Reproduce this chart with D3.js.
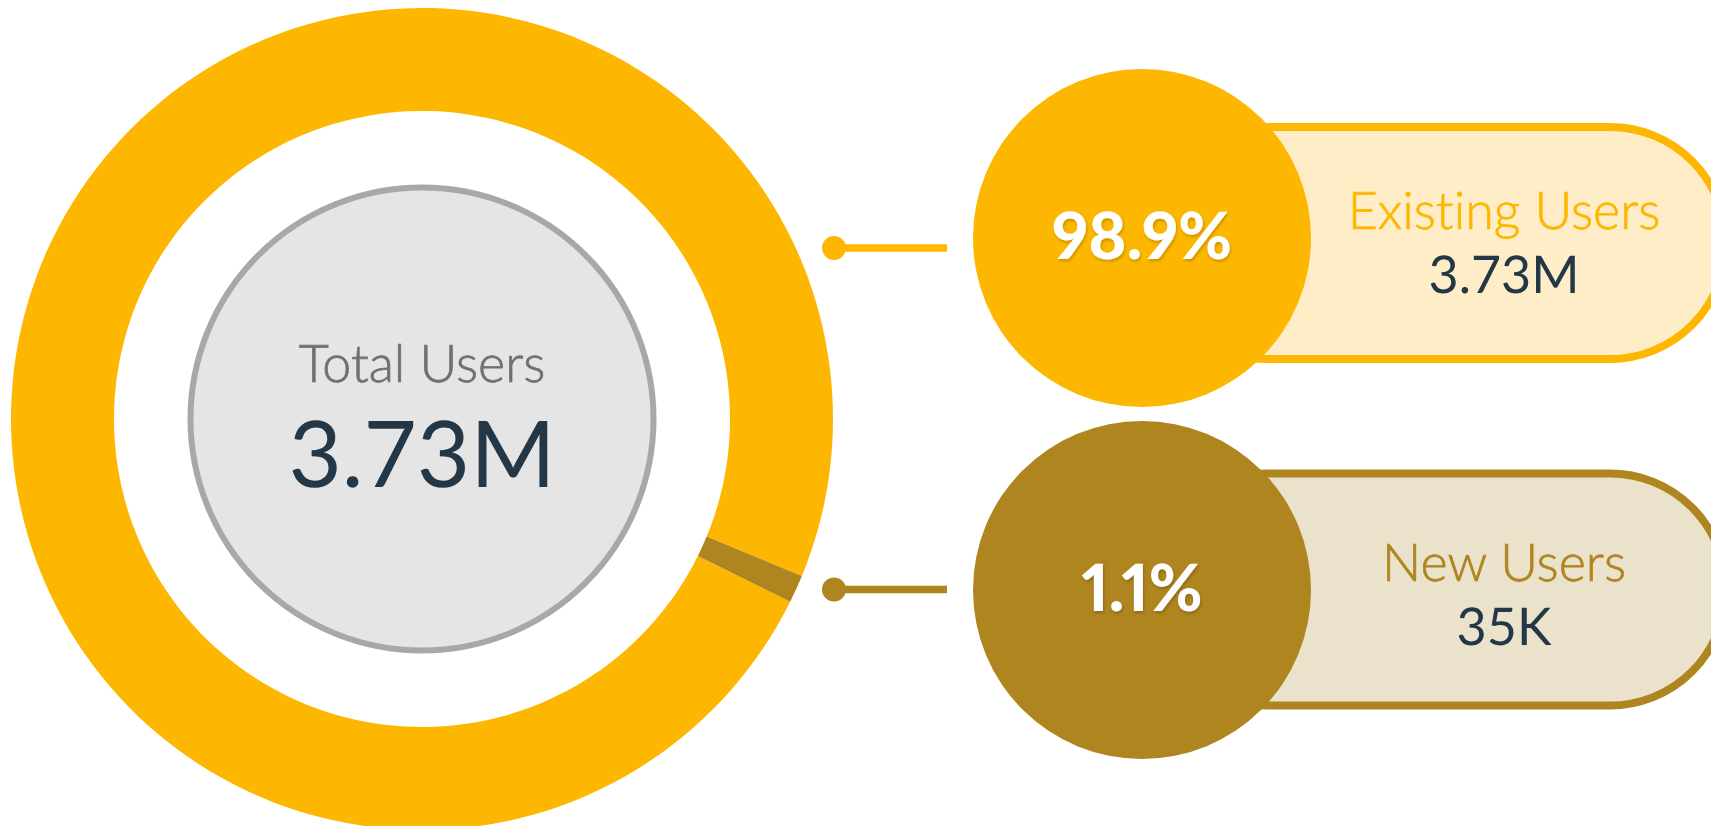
<!DOCTYPE html>
<html>
<head>
<meta charset="utf-8">
<script src="https://cdn.jsdelivr.net/npm/d3@7"></script>
<style>
  html, body { margin: 0; padding: 0; background: #ffffff; overflow: hidden; }
  svg { display: block; }
  text {
    font-family: Lato, "Open Sans", sans-serif;
    font-variant-ligatures: none;
    text-rendering: geometricPrecision;
  }
  .pct { font-variant-numeric: proportional-nums; font-feature-settings: "pnum" 1; }
</style>
</head>
<body>
<svg id="chart" width="1711" height="826"></svg>
<script>
// ---- data ----
const categories = ["Existing Users", "New Users"];
const shares = [98.9, 1.1];              // percent of total users
const countLabels = ["3.73M", "35K"];
const totalLabel = "Total Users";
const totalValue = "3.73M";

// ---- styling ----
const mainColors = ["#FDB700", "#AF851F"];
const pillFills = ["#FFEDC7", "#EAE2CB"];
const textDark = "#243746";

const svg = d3.select("#chart");

// donut geometry
const cx = 422, cy = 419;
const outerR = 411, innerR = 308;
const hubR = 231.5;

// the donut begins so the small slice sits lower right
const startDeg = 116.4;
const pie = d3.pie()
  .sort(null)
  .value(d => d.share)
  .startAngle(startDeg * Math.PI / 180)
  .endAngle(startDeg * Math.PI / 180 + 2 * Math.PI);

const rows = categories.map((c, i) => ({ name: c, share: shares[i], count: countLabels[i], i }));

const arc = d3.arc().innerRadius(innerR).outerRadius(outerR);

const donut = svg.append("g").attr("transform", `translate(${cx},${cy})`);
donut.selectAll("path.slice")
  .data(pie(rows))
  .join("path")
  .attr("class", "slice")
  .attr("d", arc)
  .attr("fill", d => mainColors[d.data.i]);

// center hub
donut.append("circle")
  .attr("r", hubR)
  .attr("fill", "#E5E5E5")
  .attr("stroke", "#A8A8A8")
  .attr("stroke-width", 6);

donut.append("text")
  .attr("text-anchor", "middle")
  .attr("y", 382 - cy)
  .attr("font-size", 52)
  .attr("font-weight", 300)
  .attr("fill", "#707070")
  .attr("stroke", "#707070")
  .attr("stroke-width", 0.7)
  .text(totalLabel);

donut.append("text")
  .attr("text-anchor", "middle")
  .attr("y", 487 - cy)
  .attr("font-size", 92)
  .attr("font-weight", 400)
  .attr("fill", textDark)
  .text(totalValue);

// ---- legend rows on the right ----
const rowY = d3.scalePoint().domain(categories).range([238, 590]);
const pillShift = [5, -0.5];     // pill centre relative to circle centre
const lineShift = [10, -0.5];    // connector relative to circle centre

const badgeX = 1142, badgeR = 169;
const pillLeft = 1150, pillRight = 1726, pillH = 232;
const textX = 1504;

const defs = svg.append("defs");
const shadow = defs.append("filter").attr("id", "pctShadow")
  .attr("x", "-20%").attr("y", "-20%").attr("width", "140%").attr("height", "140%");
shadow.append("feDropShadow")
  .attr("dx", 1).attr("dy", 2).attr("stdDeviation", 1.5)
  .attr("flood-color", "#000").attr("flood-opacity", 0.22);

const legend = svg.selectAll("g.row")
  .data(rows)
  .join("g")
  .attr("class", "row");

// pill behind the badge
legend.append("rect")
  .attr("x", pillLeft)
  .attr("y", d => rowY(d.name) + pillShift[d.i] - pillH / 2)
  .attr("width", pillRight - pillLeft)
  .attr("height", pillH)
  .attr("rx", pillH / 2)
  .attr("ry", pillH / 2)
  .attr("fill", d => pillFills[d.i])
  .attr("stroke", d => mainColors[d.i])
  .attr("stroke-width", 8);

// badge circle
legend.append("circle")
  .attr("cx", badgeX)
  .attr("cy", d => rowY(d.name))
  .attr("r", badgeR)
  .attr("fill", d => mainColors[d.i]);

// connector with dot
legend.append("line")
  .attr("x1", 834)
  .attr("x2", 947)
  .attr("y1", d => rowY(d.name) + lineShift[d.i])
  .attr("y2", d => rowY(d.name) + lineShift[d.i])
  .attr("stroke", d => mainColors[d.i])
  .attr("stroke-width", 7.5);

legend.append("circle")
  .attr("cx", 834)
  .attr("cy", d => rowY(d.name) + lineShift[d.i])
  .attr("r", 12)
  .attr("fill", d => mainColors[d.i]);

// percentage in the badge
const fmtPct = d => d3.format(".1f")(d) + "%";
legend.append("text")
  .attr("class", "pct")
  .attr("x", badgeX)
  .attr("y", d => rowY(d.name) + 21)
  .attr("text-anchor", "middle")
  .attr("font-size", 65)
  .attr("font-weight", 900)
  .attr("fill", "#ffffff")
  .attr("filter", "url(#pctShadow)")
  .text(d => fmtPct(d.share));

// category name and count in the pill
legend.append("text")
  .attr("x", textX)
  .attr("y", d => rowY(d.name) - 9)
  .attr("text-anchor", "middle")
  .attr("font-size", 52)
  .attr("font-weight", 300)
  .attr("fill", d => mainColors[d.i])
  .attr("stroke", d => mainColors[d.i])
  .attr("stroke-width", 0.7)
  .text(d => d.name);

legend.append("text")
  .attr("x", textX)
  .attr("y", d => rowY(d.name) + 55)
  .attr("text-anchor", "middle")
  .attr("font-size", 52)
  .attr("font-weight", 400)
  .attr("fill", textDark)
  .text(d => d.count);
</script>
</body>
</html>
